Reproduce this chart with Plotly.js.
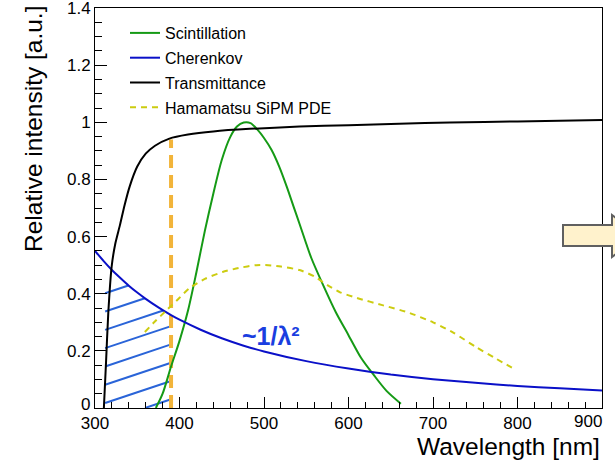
<!DOCTYPE html>
<html>
<head>
<meta charset="utf-8">
<script src="https://cdn.plot.ly/plotly-3.0.1.min.js"></script>
<style>html,body{margin:0;padding:0;background:#fff}#chart{width:615px;height:463px}</style>
</head>
<body>
<div id="chart"></div>
<script>
// ---- data ----
var scintWl  = [372,380,390,400,410,420,430,440,450,460,468,476,484,492,500,509,518,527,535,542,550,556,570,585,600,615,630,645,662];
var scintVal = [0,0.05,0.145,0.235,0.34,0.475,0.62,0.75,0.868,0.948,0.985,0.999,0.997,0.975,0.945,0.903,0.845,0.774,0.705,0.645,0.575,0.525,0.43,0.335,0.255,0.175,0.115,0.06,0.015];

var cherWl  = [300,310,320,330,340,350,360,375,390,400,425,450,475,500,550,600,650,700,750,800,850,900];
var cherVal = [0.55,0.515,0.483,0.455,0.428,0.404,0.382,0.352,0.325,0.309,0.274,0.244,0.219,0.198,0.164,0.138,0.117,0.101,0.088,0.077,0.069,0.061];

var transWl  = [310.5,313,315.7,319.7,324,329.5,335,341,350,360,371,388,410,440,483,542,600,660,720,800,900];
var transVal = [0,0.157,0.332,0.495,0.575,0.64,0.71,0.775,0.845,0.89,0.918,0.943,0.957,0.968,0.977,0.985,0.99,0.995,0.999,1.003,1.008];

var pdeWl  = [359,370,385,398,412,430,451,470,491,505,520,542,560,575,590,610,640,670,700,725,750,775,796];
var pdeVal = [0.266,0.30,0.343,0.38,0.42,0.452,0.476,0.49,0.5,0.5,0.495,0.483,0.46,0.43,0.405,0.385,0.36,0.335,0.3,0.262,0.215,0.172,0.137];

var cutWl = [390, 390];        // SiPM cut-off marker
var cutVal = [0, 0.94];

var hatchFrom = 312, hatchTo = 390;          // hatched Cherenkov band [nm]
var hatchOffsets = [-0.0465,0.0175,0.0815,0.1455,0.2095,0.2735,0.3375,0.4015];
var hatchSlope = 0.000988;                    // per nm

// end labels '0' and '900' are placed as annotations (ROOT-style shifted)
var xTicks = [300,400,500,600,700,800];
var yTicks = [0.2,0.4,0.6,0.8,1,1.2,1.4];
var yTickText = ['0.2','0.4','0.6','0.8','1','1.2','1.4'];

// ---- hatch built from the Cherenkov series ----
function cherAt(x){
  for (var i=0;i<cherWl.length-1;i++){
    if (x>=cherWl[i] && x<=cherWl[i+1]){
      var t=(x-cherWl[i])/(cherWl[i+1]-cherWl[i]);
      return cherVal[i]+t*(cherVal[i+1]-cherVal[i]);
    }
  }
  return NaN;
}
var hx=[], hy=[];
hatchOffsets.forEach(function(b){
  var seg=false;
  for (var x=hatchFrom; x<=hatchTo+1e-9; x+=0.25){
    var y=b+hatchSlope*(x-hatchFrom);
    var ok = y>=0 && y<=cherAt(x);
    if (ok){ hx.push(x); hy.push(y); seg=true; }
    else if (seg){ hx.push(null); hy.push(null); seg=false; }
  }
  if (seg){ hx.push(null); hy.push(null); }
});

var traces = [
  {x:hx, y:hy, mode:'lines', line:{color:'#2a64d8', width:2}, showlegend:false, hoverinfo:'skip'},
  {x:cutWl, y:cutVal, mode:'lines', line:{color:'#f2b43a', width:4, dash:'13px,7px'}, showlegend:false},
  {x:scintWl, y:scintVal, mode:'lines', name:'Scintillation', legendgroup:'a', line:{color:'#159a15', width:2, shape:'spline', smoothing:0.8}},
  {x:cherWl, y:cherVal, mode:'lines', name:'Cherenkov', legendgroup:'b', line:{color:'#0a10c8', width:2, shape:'spline', smoothing:0.5}},
  {x:transWl, y:transVal, mode:'lines', name:'Transmittance', legendgroup:'c', line:{color:'#000000', width:2, shape:'spline', smoothing:0.6}},
  {x:pdeWl, y:pdeVal, mode:'lines', name:'Hamamatsu SiPM PDE', legendgroup:'d', line:{color:'#cccc10', width:2, dash:'6px,5px', shape:'spline', smoothing:0.6}}
];

function px2x(p){return (p-95)/507;}
function px2y(p){return (408-p)/400;}
var arrowPath = 'M '+px2x(563)+' '+px2y(225)+' L '+px2x(612)+' '+px2y(225)+' L '+px2x(612)+' '+px2y(215)+
  ' L '+px2x(640)+' '+px2y(236)+' L '+px2x(612)+' '+px2y(257)+' L '+px2x(612)+' '+px2y(246)+' L '+px2x(563)+' '+px2y(246)+' Z';

var font = 'Liberation Sans, Arial, sans-serif';
var layout = {
  width:615, height:463,
  margin:{l:95, r:13, t:8, b:55},
  paper_bgcolor:'#fff', plot_bgcolor:'#fff',
  font:{family:font, color:'#000', size:17},
  showlegend:true,
  legend:{x:px2x(125), y:px2y(16), xanchor:'left', yanchor:'top', bgcolor:'rgba(0,0,0,0)',
          font:{size:16, family:font}, traceorder:'grouped', tracegroupgap:1},
  xaxis:{range:[300,900], tickvals:xTicks, ticks:'inside', ticklen:11, tickwidth:1, tickcolor:'#000',
         showline:true, linecolor:'#000', linewidth:1, mirror:true, showgrid:false, zeroline:false, ticklabeloverflow:'allow',
         minor:{dtick:20, ticks:'inside', ticklen:6, tickcolor:'#000'}, tickfont:{size:17}},
  yaxis:{range:[0,1.4], tickvals:yTicks, ticktext:yTickText, ticks:'inside', ticklen:12, tickwidth:1, tickcolor:'#000',
         showline:true, linecolor:'#000', linewidth:1, mirror:true, showgrid:false, zeroline:false, ticklabeloverflow:'allow',
         minor:{dtick:0.05, ticks:'inside', ticklen:7, tickcolor:'#000'}, tickfont:{size:17}},
  annotations:[
    {text:'900', xref:'paper', yref:'paper', x:px2x(587.5), y:px2y(421), xanchor:'center', yanchor:'middle', showarrow:false, font:{size:17, family:font}},
    {text:'0', xref:'paper', yref:'paper', x:px2x(92), y:px2y(404), xanchor:'right', yanchor:'middle', showarrow:false, font:{size:17, family:font}},
    {text:'Relative intensity [a.u.]', xref:'paper', yref:'paper', x:px2x(33), y:px2y(4), xanchor:'center', yanchor:'top',
     textangle:-90, showarrow:false, font:{size:24.5, family:font}},
    {text:'Wavelength [nm]', xref:'paper', yref:'paper', x:px2x(602), y:px2y(446), xanchor:'right', yanchor:'middle',
     showarrow:false, font:{size:24.5, family:font}},
    {text:'<b>~1/λ²</b>', xref:'x', yref:'y', x:508, y:0.252, showarrow:false, font:{size:25, color:'#1a3ee0', family:font}}
  ],
  shapes:[
    {type:'path', xref:'paper', yref:'paper', path:arrowPath, fillcolor:'#fff2cc', line:{color:'#606060', width:2}, layer:'above'}
  ]
};
Plotly.newPlot('chart', traces, layout, {staticPlot:true, displayModeBar:false});
</script>
</body>
</html>
